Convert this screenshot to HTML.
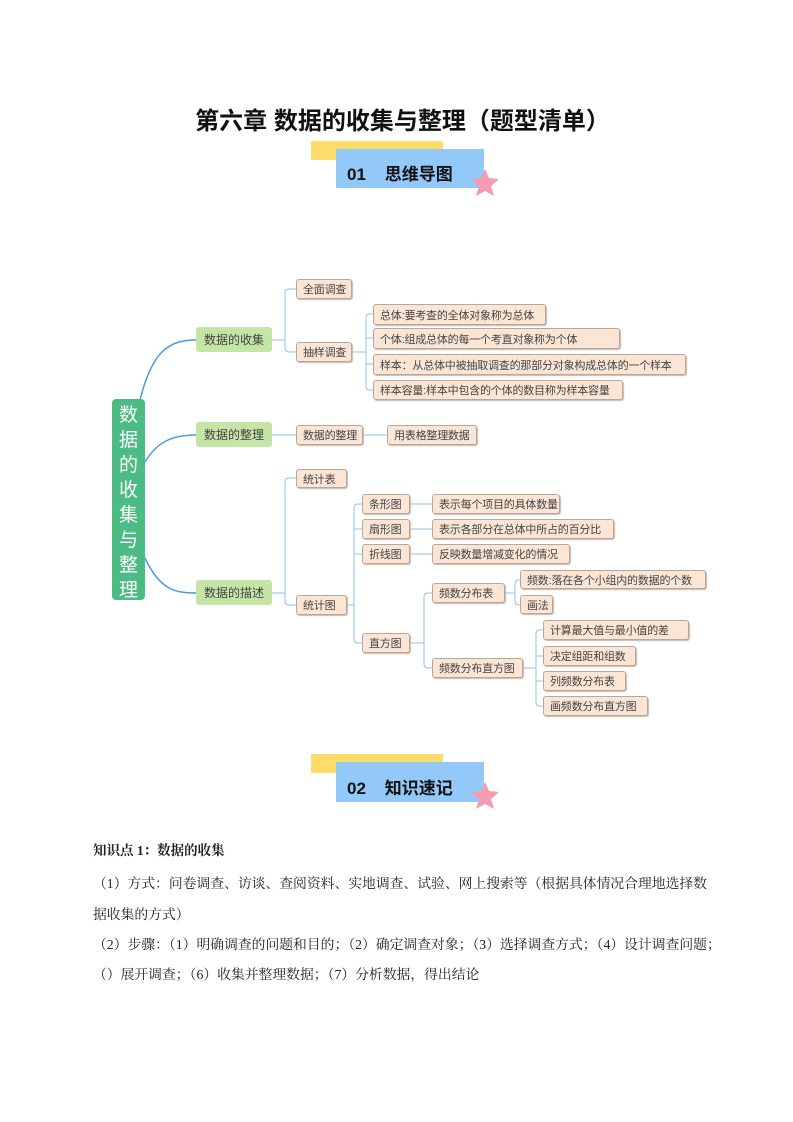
<!DOCTYPE html>
<html><head><meta charset="utf-8">
<style>
body{margin:0;width:793px;height:1122px;position:relative;background:#fff;font-family:"Liberation Sans","Noto Sans CJK SC",sans-serif;overflow:hidden}
.a{position:absolute}
.n{position:absolute;box-sizing:border-box;background:#fbe6d6;border:1px solid #b9a89a;border-radius:3px;box-shadow:1px 1px 1px #c8b8aa;font-size:11px;color:#444;display:flex;align-items:center;justify-content:flex-start;padding-left:6px;white-space:nowrap;letter-spacing:-0.2px}
.g{position:absolute;box-sizing:border-box;background:#c5e5a6;border-radius:3px;font-size:12px;color:#444;display:flex;align-items:center;justify-content:center;white-space:nowrap}
.t{position:absolute;left:93px;font-family:"Liberation Serif","Noto Serif CJK SC",serif;font-size:13.8px;color:#222;white-space:nowrap}
</style></head><body>
<div class="a" style="left:0;width:805px;top:101px;text-align:center;font-size:24px;font-weight:bold;color:#111">第六章&nbsp;数据的收集与整理（题型清单）</div>

<div class="a" style="left:311px;top:141px;width:132px;height:19px;background:#fddc6a"></div>
<div class="a" style="left:336px;top:149px;width:148px;height:39px;background:#92c9f9"></div>
<div class="a" style="left:347px;top:160px;font-size:17px;font-weight:bold;color:#111">01&nbsp;&nbsp;&nbsp;&nbsp;思维导图</div>
<svg class="a" style="left:470px;top:168px" width="30" height="30"><polygon points="15,1 19,10 29,11 21,18 24,28 15,23 6,28 9,18 1,11 11,10" fill="#f59bb0"/></svg>

<div class="a" style="left:311px;top:754px;width:132px;height:19px;background:#fddc6a"></div>
<div class="a" style="left:336px;top:762px;width:148px;height:40px;background:#92c9f9"></div>
<div class="a" style="left:347px;top:774px;font-size:17px;font-weight:bold;color:#111">02&nbsp;&nbsp;&nbsp;&nbsp;知识速记</div>
<svg class="a" style="left:470px;top:781px" width="30" height="30"><polygon points="15,1 19,10 29,11 21,18 24,28 15,23 6,28 9,18 1,11 11,10" fill="#f59bb0"/></svg>

<svg class="a" style="left:0;top:0" width="793" height="740" fill="none">
<g stroke="#4a9be0" stroke-width="1.5">
<path d="M140,400 C152,352 168,340 196,340"/>
<path d="M145,462 C158,440 175,435 196,435"/>
<path d="M145,558 C160,590 175,593 196,593"/>
</g>
<g stroke="#8cc3e6" stroke-width="1">
<path d="M272,340 H285 M296,289 H289 Q285,289 285,293 V348 Q285,352 289,352 H296"/>
<path d="M352,352 H366 M373,314 H370 Q366,314 366,318 V386 Q366,390 370,390 H373 M366,338 H373 M366,364 H373"/>
<path d="M272,435 H296 M363,435 H387"/>
<path d="M272,593 H285 M296,478 H289 Q285,478 285,482 V601 Q285,605 289,605 H296"/>
<path d="M347,605 H354 M362,504 H358 Q354,504 354,508 V639 Q354,643 358,643 H362 M354,529 H362 M354,554 H362"/>
<path d="M410,504 H432 M410,529 H432 M410,554 H432"/>
<path d="M410,643 H424 M432,593 H428 Q424,593 424,597 V664 Q424,668 428,668 H432"/>
<path d="M505,593 H515 M520,580 H519 Q515,580 515,584 V601 Q515,605 519,605 H520"/>
<path d="M523,668 H536 M543,630 H540 Q536,630 536,634 V702 Q536,706 540,706 H543 M536,656 H543 M536,681 H543"/>
</g>
</svg>

<div class="a" style="left:112px;top:399px;width:33px;height:201px;background:#4cbb84;border-radius:4px;color:#fff;font-size:19px;line-height:25px;text-align:center;padding-top:4px;box-sizing:border-box">数<br>据<br>的<br>收<br>集<br>与<br>整<br>理</div>

<div class="g" style="left:196px;top:327px;width:76px;height:25px">数据的收集</div>
<div class="g" style="left:196px;top:422px;width:76px;height:25px">数据的整理</div>
<div class="g" style="left:196px;top:580px;width:76px;height:25px">数据的描述</div>

<div class="n" style="left:296px;top:279px;width:56px;height:20px">全面调查</div>
<div class="n" style="left:296px;top:342px;width:56px;height:20px">抽样调查</div>
<div class="n" style="left:373px;top:304px;width:173px;height:21px">总体:要考查的全体对象称为总体</div>
<div class="n" style="left:373px;top:328px;width:247px;height:21px">个体:组成总体的每一个考直对象称为个体</div>
<div class="n" style="left:373px;top:354px;width:313px;height:21px">样本：从总体中被抽取调查的那部分对象构成总体的一个样本</div>
<div class="n" style="left:373px;top:380px;width:250px;height:20px">样本容量:样本中包含的个体的数目称为样本容量</div>

<div class="n" style="left:296px;top:425px;width:67px;height:20px">数据的整理</div>
<div class="n" style="left:387px;top:425px;width:90px;height:20px">用表格整理数据</div>

<div class="n" style="left:296px;top:469px;width:51px;height:19px">统计表</div>
<div class="n" style="left:296px;top:595px;width:51px;height:20px">统计图</div>
<div class="n" style="left:362px;top:494px;width:48px;height:20px">条形图</div>
<div class="n" style="left:362px;top:519px;width:48px;height:20px">扇形图</div>
<div class="n" style="left:362px;top:544px;width:48px;height:20px">折线图</div>
<div class="n" style="left:362px;top:633px;width:48px;height:20px">直方图</div>
<div class="n" style="left:432px;top:494px;width:128px;height:20px">表示每个项目的具体数量</div>
<div class="n" style="left:432px;top:519px;width:182px;height:20px">表示各部分在总体中所占的百分比</div>
<div class="n" style="left:432px;top:544px;width:138px;height:20px">反映数量增减变化的情况</div>
<div class="n" style="left:432px;top:583px;width:73px;height:20px">频数分布表</div>
<div class="n" style="left:432px;top:658px;width:91px;height:20px">频数分布直方图</div>
<div class="n" style="left:520px;top:570px;width:186px;height:19px">频数:落在各个小组内的数据的个数</div>
<div class="n" style="left:520px;top:595px;width:33px;height:19px">画法</div>
<div class="n" style="left:543px;top:620px;width:146px;height:20px">计算最大值与最小值的差</div>
<div class="n" style="left:543px;top:646px;width:93px;height:20px">决定组距和组数</div>
<div class="n" style="left:543px;top:671px;width:83px;height:20px">列频数分布表</div>
<div class="n" style="left:543px;top:696px;width:105px;height:20px">画频数分布直方图</div>

<div class="t" style="top:839px;font-weight:bold;font-size:13.5px">知识点 1：数据的收集</div>
<div class="t" style="top:872px">（1）方式：问卷调查、访谈、查阅资料、实地调查、试验、网上搜索等（根据具体情况合理地选择数</div>
<div class="t" style="top:903px">据收集的方式）</div>
<div class="t" style="top:933px">（2）步骤：（1）明确调查的问题和目的；（2）确定调查对象；（3）选择调查方式；（4）设计调查问题；</div>
<div class="t" style="top:963px">（）展开调查；（6）收集并整理数据；（7）分析数据，得出结论</div>
</body></html>
